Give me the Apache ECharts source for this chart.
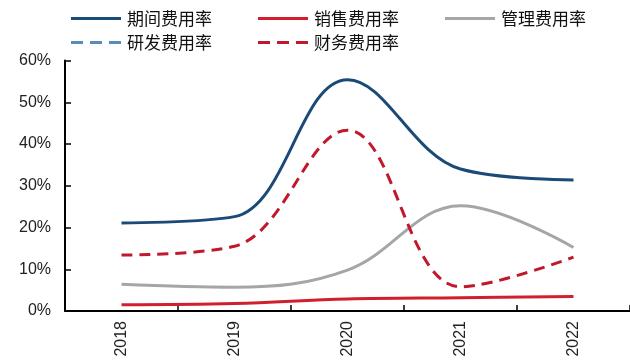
<!DOCTYPE html>
<html>
<head>
<meta charset="utf-8">
<script src="https://cdn.jsdelivr.net/npm/echarts@6/dist/echarts.min.js"></script>
<style>
  html, body { margin: 0; padding: 0; background: #fff; }
  #chart { width: 630px; height: 362px; }
</style>
</head>
<body>
<div id="chart"></div>
<script>
// Expense ratios by year (%)
const years = ['2018', '2019', '2020', '2021', '2022'];
const periodRate  = [21.1, 22.6, 55.4, 34.0, 31.4];   // 期间费用率
const salesRate   = [1.5, 1.8, 2.9, 3.2, 3.5];        // 销售费用率
const adminRate   = [6.4, 5.7, 9.8, 25.2, 15.2];      // 管理费用率
const rdRate      = [null, null, null, null, null];   // 研发费用率 (not reported)
const financeRate = [13.4, 15.5, 43.3, 5.8, 12.9];    // 财务费用率

const yTicks = [0, 10, 20, 30, 40, 50, 60];

const NAVY = '#1b4a78';
const RED = '#d0202e';
const GREY = '#a6a6a6';
const STEEL = '#5b8bbd';
const DARKRED = '#c0192b';

// legend keys: a plain bar for solid lines, three dashes for dashed lines
const SOLID_ICON = 'path://M0,0H50V3H0Z';
const DASH_ICON = 'path://M0,0H12V3H0Z M19,0H31V3H19Z M38,0H50V3H38Z';

const legendText = { fontSize: 17, color: '#111', fontFamily: '"Noto Sans CJK SC", sans-serif' };

function lineSeries(name, data, color, dashed) {
  return {
    name: name,
    type: 'line',
    data: data,
    smooth: 0.38,
    symbol: 'none',
    lineStyle: { color: color, width: 3, type: dashed ? [11, 7] : 'solid' },
    itemStyle: { color: color },
    emphasis: { disabled: true },
    z: 2
  };
}

const chart = echarts.init(document.getElementById('chart'), null, { renderer: 'canvas' });

chart.setOption({
  animation: false,
  backgroundColor: '#fff',
  legend: [
    {
      data: [
        { name: '期间费用率', icon: SOLID_ICON },
        { name: '销售费用率', icon: SOLID_ICON },
        { name: '管理费用率', icon: SOLID_ICON }
      ],
      left: 66, top: 5,
      itemWidth: 52, itemHeight: 3, itemGap: 46,
      textStyle: legendText
    },
    {
      data: [
        { name: '研发费用率', icon: DASH_ICON },
        { name: '财务费用率', icon: DASH_ICON }
      ],
      left: 66, top: 29,
      itemWidth: 52, itemHeight: 3, itemGap: 46,
      textStyle: legendText
    }
  ],
  grid: { left: 65, right: -7, top: 60.5, bottom: 51, containLabel: false },
  xAxis: {
    type: 'category',
    data: years,
    boundaryGap: true,
    axisLine: { lineStyle: { color: '#000', width: 2 } },
    axisTick: { show: true, inside: true, length: 6, alignWithLabel: false, lineStyle: { color: '#000', width: 1.5 } },
    axisLabel: {
      rotate: 90, margin: 10, fontSize: 16, color: '#222',
      fontFamily: 'Arial, "Liberation Sans", sans-serif'
    },
    splitLine: { show: false }
  },
  yAxis: {
    type: 'value',
    min: yTicks[0], max: yTicks[yTicks.length - 1], interval: 10,
    axisLine: { show: true, lineStyle: { color: '#000', width: 2 } },
    axisTick: { show: true, inside: true, length: 6, lineStyle: { color: '#000', width: 1.5 } },
    axisLabel: {
      formatter: '{value}%', margin: 14, fontSize: 16, color: '#222',
      fontFamily: 'Arial, "Liberation Sans", sans-serif'
    },
    splitLine: { show: false }
  },
  series: [
    lineSeries('期间费用率', periodRate, NAVY, false),
    lineSeries('销售费用率', salesRate, RED, false),
    lineSeries('管理费用率', adminRate, GREY, false),
    lineSeries('研发费用率', rdRate, STEEL, true),
    lineSeries('财务费用率', financeRate, DARKRED, true)
  ]
});
</script>
</body>
</html>
